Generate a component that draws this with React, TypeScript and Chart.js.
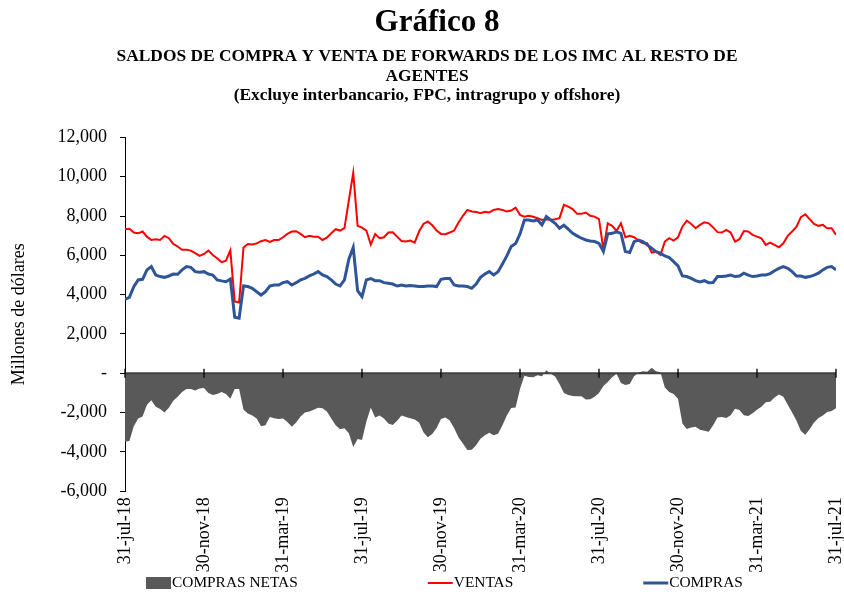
import React, { useEffect, useRef } from 'react';
import { Chart, registerables } from 'chart.js';

Chart.register(...registerables);

const FONT = "'Times New Roman', 'Liberation Serif', serif";

const tickLabels = [
  '31-jul-18', '30-nov-18', '31-mar-19', '31-jul-19', '30-nov-19',
  '31-mar-20', '31-jul-20', '30-nov-20', '31-mar-21', '31-jul-21',
];
const pointsPerTick = 18;

const ventas = [
  7330, 7350, 7160, 7120, 7210, 6950, 6780, 6820, 6780, 6990,
  6870, 6580, 6450, 6280, 6280, 6240, 6110, 5970, 6070, 6240,
  6020, 5850, 5650, 5730, 6250, 3650, 3600, 6400, 6580, 6550,
  6610, 6720, 6780, 6680, 6780, 6780, 6920, 7090, 7210, 7230,
  7090, 6920, 6990, 6950, 6950, 6780, 6900, 7120, 7330, 7260,
  7380, 8800, 10200, 7500, 7410, 7260, 6550, 7090, 6870, 6920,
  7160, 7170, 6950, 6730, 6700, 6750, 6650, 7210, 7600, 7720,
  7530, 7260, 7090, 7070, 7160, 7260, 7670, 8010, 8310, 8230,
  8210, 8140, 8210, 8180, 8310, 8360, 8310, 8230, 8280, 8430,
  8060, 7970, 8010, 7960, 7890, 7800, 7840, 7800, 7840, 7890,
  8570, 8480, 8350, 8110, 8110, 8180, 8010, 7970, 7840, 6300,
  7630, 7500, 7240, 7630, 6920, 6990, 6920, 6750, 6610, 6610,
  6140, 6190, 6020, 6700, 6870, 6750, 6920, 7460, 7770, 7600,
  7380, 7550, 7680, 7630, 7420, 7180, 7160, 7290, 7160, 6700,
  6820, 7240, 7210, 7040, 6950, 6870, 6530, 6650, 6530, 6410,
  6610, 6990, 7210, 7460, 7940, 8090, 7840, 7600, 7500, 7550,
  7380, 7380, 7040,
];

const compras = [
  3760, 3865, 4410, 4750, 4780, 5260, 5430, 5000, 4920, 4880,
  4950, 5050, 5040, 5260, 5430, 5390, 5170, 5140, 5170, 5050,
  5000, 4750, 4700, 4660, 4800, 2850, 2800, 4440, 4410, 4320,
  4150, 3980, 4150, 4440, 4490, 4490, 4610, 4660, 4490, 4610,
  4750, 4830, 4950, 5050, 5170, 5000, 4920, 4750, 4540, 4440,
  4750, 5800, 6400, 4200, 3900, 4750, 4820, 4710, 4710, 4610,
  4580, 4540, 4440, 4490, 4440, 4460, 4440, 4410, 4410, 4440,
  4440, 4410, 4780, 4820, 4820, 4490, 4440, 4440, 4410, 4320,
  4540, 4880, 5050, 5170, 5000, 5170, 5560, 5970, 6450, 6600,
  7090, 7800, 7800, 7750, 7800, 7550, 7970, 7800, 7630, 7380,
  7530, 7330, 7120, 6990, 6870, 6780, 6730, 6700, 6610, 6200,
  7090, 7120, 7190, 7120, 6190, 6140, 6700, 6780, 6700, 6530,
  6360, 6190, 6110, 5970, 5890, 5680, 5460, 4950, 4920, 4830,
  4710, 4650, 4710, 4610, 4620, 4920, 4920, 4950, 5000, 4920,
  4950, 5090, 4990, 4920, 4950, 5000, 5000, 5070, 5220, 5340,
  5430, 5340, 5170, 4950, 4950, 4880, 4920, 4990, 5090, 5260,
  5390, 5430, 5260,
];

const comprasNetas = [
  -3480, -3450, -2700, -2300, -2200, -1600, -1370, -1700, -1820, -2000,
  -1750, -1400, -1200, -950, -800, -800, -880, -780, -750, -1000,
  -1100, -1050, -950, -1050, -1300, -800, -800, -1850, -2050, -2150,
  -2300, -2700, -2650, -2230, -2290, -2330, -2300, -2480, -2720, -2500,
  -2200, -2000, -1950, -1850, -1750, -1780, -1950, -2300, -2650, -2850,
  -2800, -3050, -3750, -3350, -3400, -2450, -1750, -2250, -2150, -2300,
  -2550, -2630, -2420, -2150, -2220, -2290, -2350, -2500, -3000, -3250,
  -3090, -2780, -2330, -2250, -2400, -2800, -3270, -3570, -3900, -3890,
  -3660, -3330, -3150, -3030, -3150, -3080, -2650, -2150, -1770, -1740,
  -800, -130, -190, -200, -100, -150, 150, -20, -170, -550,
  -1000, -1100, -1160, -1170, -1170, -1330, -1320, -1200, -1000, -650,
  -450, -200, -20, -500, -600, -550, -150, 30, 100, 80,
  280, 100, 50, -720, -950, -1060, -1300, -2560, -2830, -2760,
  -2720, -2870, -2930, -2970, -2650, -2250, -2220, -2270, -2140, -1800,
  -1870, -2130, -2170, -2030, -1850, -1700, -1480, -1450, -1230, -1080,
  -1200, -1600, -2000, -2420, -2940, -3130, -2850, -2500, -2280, -2150,
  -1970, -1920, -1780,
];

const titleText = 'Gráfico 8';
const subtitleLines = [
  'SALDOS DE COMPRA Y VENTA DE FORWARDS DE LOS IMC AL RESTO DE',
  'AGENTES',
  '(Excluye interbancario, FPC, intragrupo y offshore)',
];
const yAxisTitle = 'Millones de dólares';

const toPoints = (arr: number[]) => arr.map((v, i) => ({ x: i, y: v }));

const titlePlugin = {
  id: 'customTitle',
  afterDraw(chart: any) {
    const { ctx } = chart;
    ctx.save();
    ctx.fillStyle = '#000000';
    ctx.textAlign = 'center';
    ctx.textBaseline = 'middle';
    ctx.font = `bold 31px ${FONT}`;
    ctx.fillText(titleText, 437, 23);
    ctx.font = `bold 17.4px ${FONT}`;
    subtitleLines.forEach((line, i) => {
      ctx.fillText(line, 427, 57 + i * 19.4);
    });
    ctx.restore();
  },
};

const zeroAxisPlugin = {
  id: 'zeroAxis',
  afterDatasetsDraw(chart: any) {
    const { ctx, chartArea, scales } = chart;
    const y0 = scales.y.getPixelForValue(0);
    ctx.save();
    ctx.strokeStyle = '#404040';
    ctx.lineWidth = 2;
    ctx.beginPath();
    ctx.moveTo(chartArea.left, y0);
    ctx.lineTo(chartArea.right, y0);
    ctx.stroke();
    ctx.strokeStyle = '#000000';
    ctx.lineWidth = 1.3;
    scales.x.ticks.forEach((t: any) => {
      const x = scales.x.getPixelForValue(t.value);
      ctx.beginPath();
      ctx.moveTo(x, y0 - 4.5);
      ctx.lineTo(x, y0 + 4.5);
      ctx.stroke();
    });
    ctx.restore();
  },
};

const legendPlugin = {
  id: 'customLegend',
  afterDraw(chart: any) {
    const { ctx } = chart;
    ctx.save();
    ctx.font = `15.4px ${FONT}`;
    ctx.textBaseline = 'middle';
    ctx.textAlign = 'left';
    let x = 146;
    const y = 583;
    chart.data.datasets.forEach((ds: any) => {
      if (ds.fill) {
        ctx.fillStyle = ds.backgroundColor;
        ctx.fillRect(x, y - 6, 25, 12);
      } else {
        ctx.strokeStyle = ds.borderColor;
        ctx.lineWidth = ds.borderWidth;
        ctx.beginPath();
        ctx.moveTo(x, y);
        ctx.lineTo(x + 25, y);
        ctx.stroke();
      }
      ctx.fillStyle = '#000000';
      ctx.fillText(ds.label, x + 26, y);
      x += 26 + ctx.measureText(ds.label).width + 130;
    });
    ctx.restore();
  },
};

export default function App() {
  const ref = useRef<HTMLCanvasElement>(null);

  useEffect(() => {
    if (!ref.current) return;
    const chart = new Chart(ref.current, {
      type: 'line',
      data: {
        datasets: [
          {
            label: 'COMPRAS NETAS',
            data: toPoints(comprasNetas),
            borderColor: '#595959',
            backgroundColor: '#595959',
            borderWidth: 0,
            fill: 'origin',
            pointRadius: 0,
            tension: 0,
            order: 2,
          },
          {
            label: 'VENTAS',
            data: toPoints(ventas),
            borderColor: '#FF0000',
            backgroundColor: '#FF0000',
            borderWidth: 2,
            fill: false,
            pointRadius: 0,
            tension: 0,
            order: 1,
          },
          {
            label: 'COMPRAS',
            data: toPoints(compras),
            borderColor: '#2E5597',
            backgroundColor: '#2E5597',
            borderWidth: 3,
            fill: false,
            pointRadius: 0,
            tension: 0,
            order: 0,
          },
        ],
      } as any,
      options: {
        responsive: false,
        animation: false,
        devicePixelRatio: 1,
        layout: { padding: { left: 0, right: 8, top: 137.4, bottom: 0 } },
        plugins: {
          legend: { display: false },
          tooltip: { enabled: false },
          title: { display: false },
          subtitle: { display: false },
        },
        scales: {
          x: {
            type: 'linear',
            min: 0,
            max: (tickLabels.length - 1) * pointsPerTick,
            afterFit: (s: any) => {
              s.height = 106.8;
              s.paddingLeft = 0;
              s.paddingRight = 0;
            },
            grid: { display: false, drawTicks: false },
            border: { display: false },
            ticks: {
              stepSize: pointsPerTick,
              autoSkip: false,
              maxRotation: 90,
              minRotation: 90,
              padding: 6,
              color: '#000000',
              font: { family: FONT, size: 18, lineHeight: 1 },
              callback: (v: any) => tickLabels[Math.round(Number(v) / pointsPerTick)] ?? '',
            },
          },
          y: {
            min: -6000,
            max: 12000,
            afterFit: (s: any) => { s.width = 125; },
            grid: { drawOnChartArea: false, drawTicks: true, tickLength: 5, color: '#000000' },
            border: { display: true, color: '#000000', width: 1 },
            ticks: {
              stepSize: 2000,
              padding: 13,
              color: '#000000',
              font: { family: FONT, size: 18 },
              callback: (v: any) => (Number(v) === 0 ? '-' : Number(v).toLocaleString('en-US')),
            },
            title: {
              display: true,
              text: yAxisTitle,
              color: '#000000',
              font: { family: FONT, size: 18, lineHeight: 1.2 },
              padding: { top: 8, bottom: 0 },
            },
          },
        },
      } as any,
      plugins: [zeroAxisPlugin, titlePlugin, legendPlugin],
    });
    return () => chart.destroy();
  }, []);

  return (
    <div style={{ position: 'absolute', left: 0, top: 0, width: 844, height: 598, background: '#ffffff' }}>
      <canvas ref={ref} width={844} height={598} style={{ display: 'block' }} />
    </div>
  );
}
